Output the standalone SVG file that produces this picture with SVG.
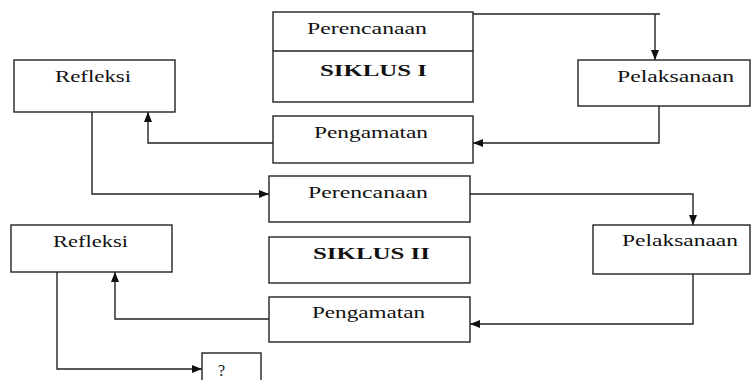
<svg xmlns="http://www.w3.org/2000/svg" width="751" height="380" viewBox="0 0 751 380">
<style>
.box{fill:#fff;stroke:#222;stroke-width:1.4}
.ln{fill:none;stroke:#222;stroke-width:1.4}
.t{font-family:"Liberation Serif","Times New Roman",serif;font-size:16px;fill:#111}
.b{font-weight:bold}
</style>
<defs>
<marker id="ah" markerUnits="userSpaceOnUse" markerWidth="10" markerHeight="10" viewBox="0 0 10 10" refX="10" refY="5" orient="auto">
<path d="M0,1 L10,5 L0,9 Z" fill="#111"/>
</marker>
</defs>
<rect width="751" height="380" fill="#fff"/>
<g id="connectors">
<path class="ln" d="M463,14 H660"/>
<path class="ln" d="M655,14 V60" marker-end="url(#ah)"/>
<path class="ln" d="M659,106 V143 H473" marker-end="url(#ah)"/>
<path class="ln" d="M273,143 H148 V112" marker-end="url(#ah)"/>
<path class="ln" d="M92,112 V194 H269" marker-end="url(#ah)"/>
<path class="ln" d="M470,194 H693 V225" marker-end="url(#ah)"/>
<path class="ln" d="M693,274 V324 H470" marker-end="url(#ah)"/>
<path class="ln" d="M269,319 H115 V272" marker-end="url(#ah)"/>
<path class="ln" d="M57,272 V369 H202" marker-end="url(#ah)"/>
</g>
<g id="siklus1">
<rect class="box" x="273" y="12" width="200" height="90"/>
<line class="ln" x1="273" y1="51" x2="473" y2="51"/>
<text class="t" x="307" y="34" textLength="120" lengthAdjust="spacingAndGlyphs">Perencanaan</text>
<text class="t b" x="320" y="76" textLength="107" lengthAdjust="spacingAndGlyphs">SIKLUS I</text>
</g>
<g id="pelaksanaan1">
<rect class="box" x="578" y="60" width="172" height="46"/>
<text class="t" x="617" y="82" textLength="117" lengthAdjust="spacingAndGlyphs">Pelaksanaan</text>
</g>
<g id="refleksi1">
<rect class="box" x="14" y="60" width="161" height="52"/>
<text class="t" x="55" y="82" textLength="76" lengthAdjust="spacingAndGlyphs">Refleksi</text>
</g>
<g id="pengamatan1">
<rect class="box" x="273" y="116" width="200" height="47"/>
<text class="t" x="314" y="138" textLength="114" lengthAdjust="spacingAndGlyphs">Pengamatan</text>
</g>
<g id="perencanaan2">
<rect class="box" x="269" y="176" width="201" height="46"/>
<text class="t" x="308" y="198" textLength="120" lengthAdjust="spacingAndGlyphs">Perencanaan</text>
</g>
<g id="siklus2">
<rect class="box" x="269" y="237" width="201" height="46"/>
<text class="t b" x="313" y="259" textLength="117" lengthAdjust="spacingAndGlyphs">SIKLUS II</text>
</g>
<g id="pelaksanaan2">
<rect class="box" x="593" y="225" width="157" height="49"/>
<text class="t" x="622" y="246" textLength="116" lengthAdjust="spacingAndGlyphs">Pelaksanaan</text>
</g>
<g id="refleksi2">
<rect class="box" x="11" y="225" width="161" height="47"/>
<text class="t" x="53" y="247" textLength="75" lengthAdjust="spacingAndGlyphs">Refleksi</text>
</g>
<g id="pengamatan2">
<rect class="box" x="269" y="297" width="201" height="45"/>
<text class="t" x="312" y="318" textLength="113" lengthAdjust="spacingAndGlyphs">Pengamatan</text>
</g>
<g id="next">
<rect class="box" x="202" y="353" width="59" height="40"/>
<text class="t" x="218" y="376">?</text>
</g>
</svg>
